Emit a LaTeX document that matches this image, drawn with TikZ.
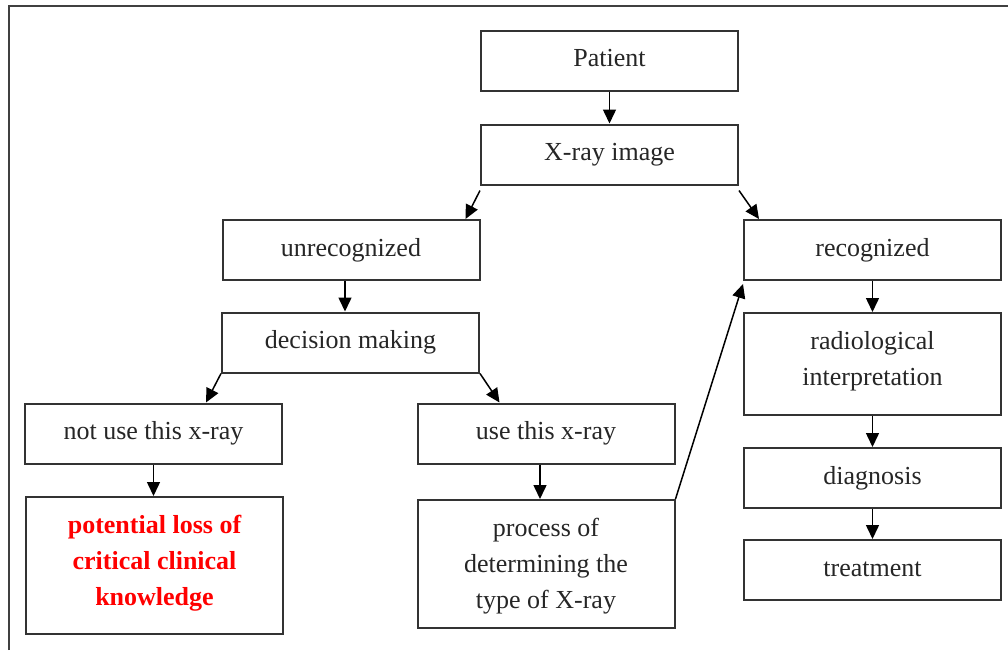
\documentclass[tikz,border=0pt]{standalone}
\usepackage{fontspec}
\setmainfont{Liberation Serif}
\usetikzlibrary{arrows.meta,positioning}

\begin{document}
\begin{tikzpicture}[x=0.5pt, y=-0.5pt, ->, >={Triangle[length=7pt,width=6.5pt]}, line width=0.75pt]

    \tikzstyle{block}=[draw=black!80, line width=1pt, fill=white, text=black!85, minimum width=128.5pt, minimum height=30pt, inner sep=0pt, align=center, font=\fontsize{13pt}{18pt}\selectfont]
    \tikzstyle{one line}=[text height=9pt, text depth=2.8pt]
    \tikzstyle{frame}=[-, draw=black!75, line width=1pt]

    \useasboundingbox (0,0) rectangle (1008,650);
    \draw[frame] (9,650) -- (9,5.5) -- (1008,5.5);

    % middle column
    \node[block, one line] (patient)  at (609.5,60.5)  {Patient};
    \node[block, one line] (xray)     at (609.5,154.5) {X-ray image};

    % left branch
    \node[block, one line] (unrec)    at (351,250)     {unrecognized};
    \node[block, one line] (decision) at (350.5,342.5) {decision making};
    \node[block, one line] (notuse)   at (153.5,433.5) {not use this x-ray};
    \node[block, one line] (use)      at (546,433.5)   {use this x-ray};
    \node[block, minimum height=68.5pt, text depth=4.8pt, text=red, font=\fontsize{13pt}{18pt}\selectfont\bfseries]
                            (loss)      at (154.5,565.5) {potential loss of\\critical clinical\\knowledge};
    \node[block, minimum height=64pt, text depth=0.8pt]
                            (process)   at (546,564)     {process of\\determining the\\type of X-ray};

    % right branch
    \node[block, one line] (rec)      at (872.5,250)   {recognized};
    \node[block, minimum height=51pt, text depth=5.8pt]
                            (radio)     at (872.5,364)   {radiological\\interpretation};
    \node[block, one line] (diag)     at (872.5,478)   {diagnosis};
    \node[block, one line] (treat)    at (872.5,570)   {treatment};

    \draw (patient) -- (xray);
    \draw ([yshift=-2.5pt]xray.south west) -- ([xshift=-7.5pt]unrec.north east);
    \draw ([yshift=-2.5pt]xray.south east) -- ([xshift=8pt]rec.north west);
    \draw ([xshift=-3pt]unrec.south) -- ([xshift=-3pt]unrec.south |- decision.north);
    \draw (decision.south west) -- ([xshift=-38.5pt]notuse.north east);
    \draw (decision.south east) -- ([xshift=41.5pt]use.north west);
    \draw (notuse.south) -- (notuse.south |- loss.north);
    \draw ([xshift=-3pt]use.south) -- ([xshift=-3pt]use.south |- process.north);
    \draw (process.north east) -- ([yshift=-1.5pt]rec.south west);
    \draw (rec) -- (radio);
    \draw (radio) -- (diag);
    \draw (diag) -- (treat);

\end{tikzpicture}
\end{document}
